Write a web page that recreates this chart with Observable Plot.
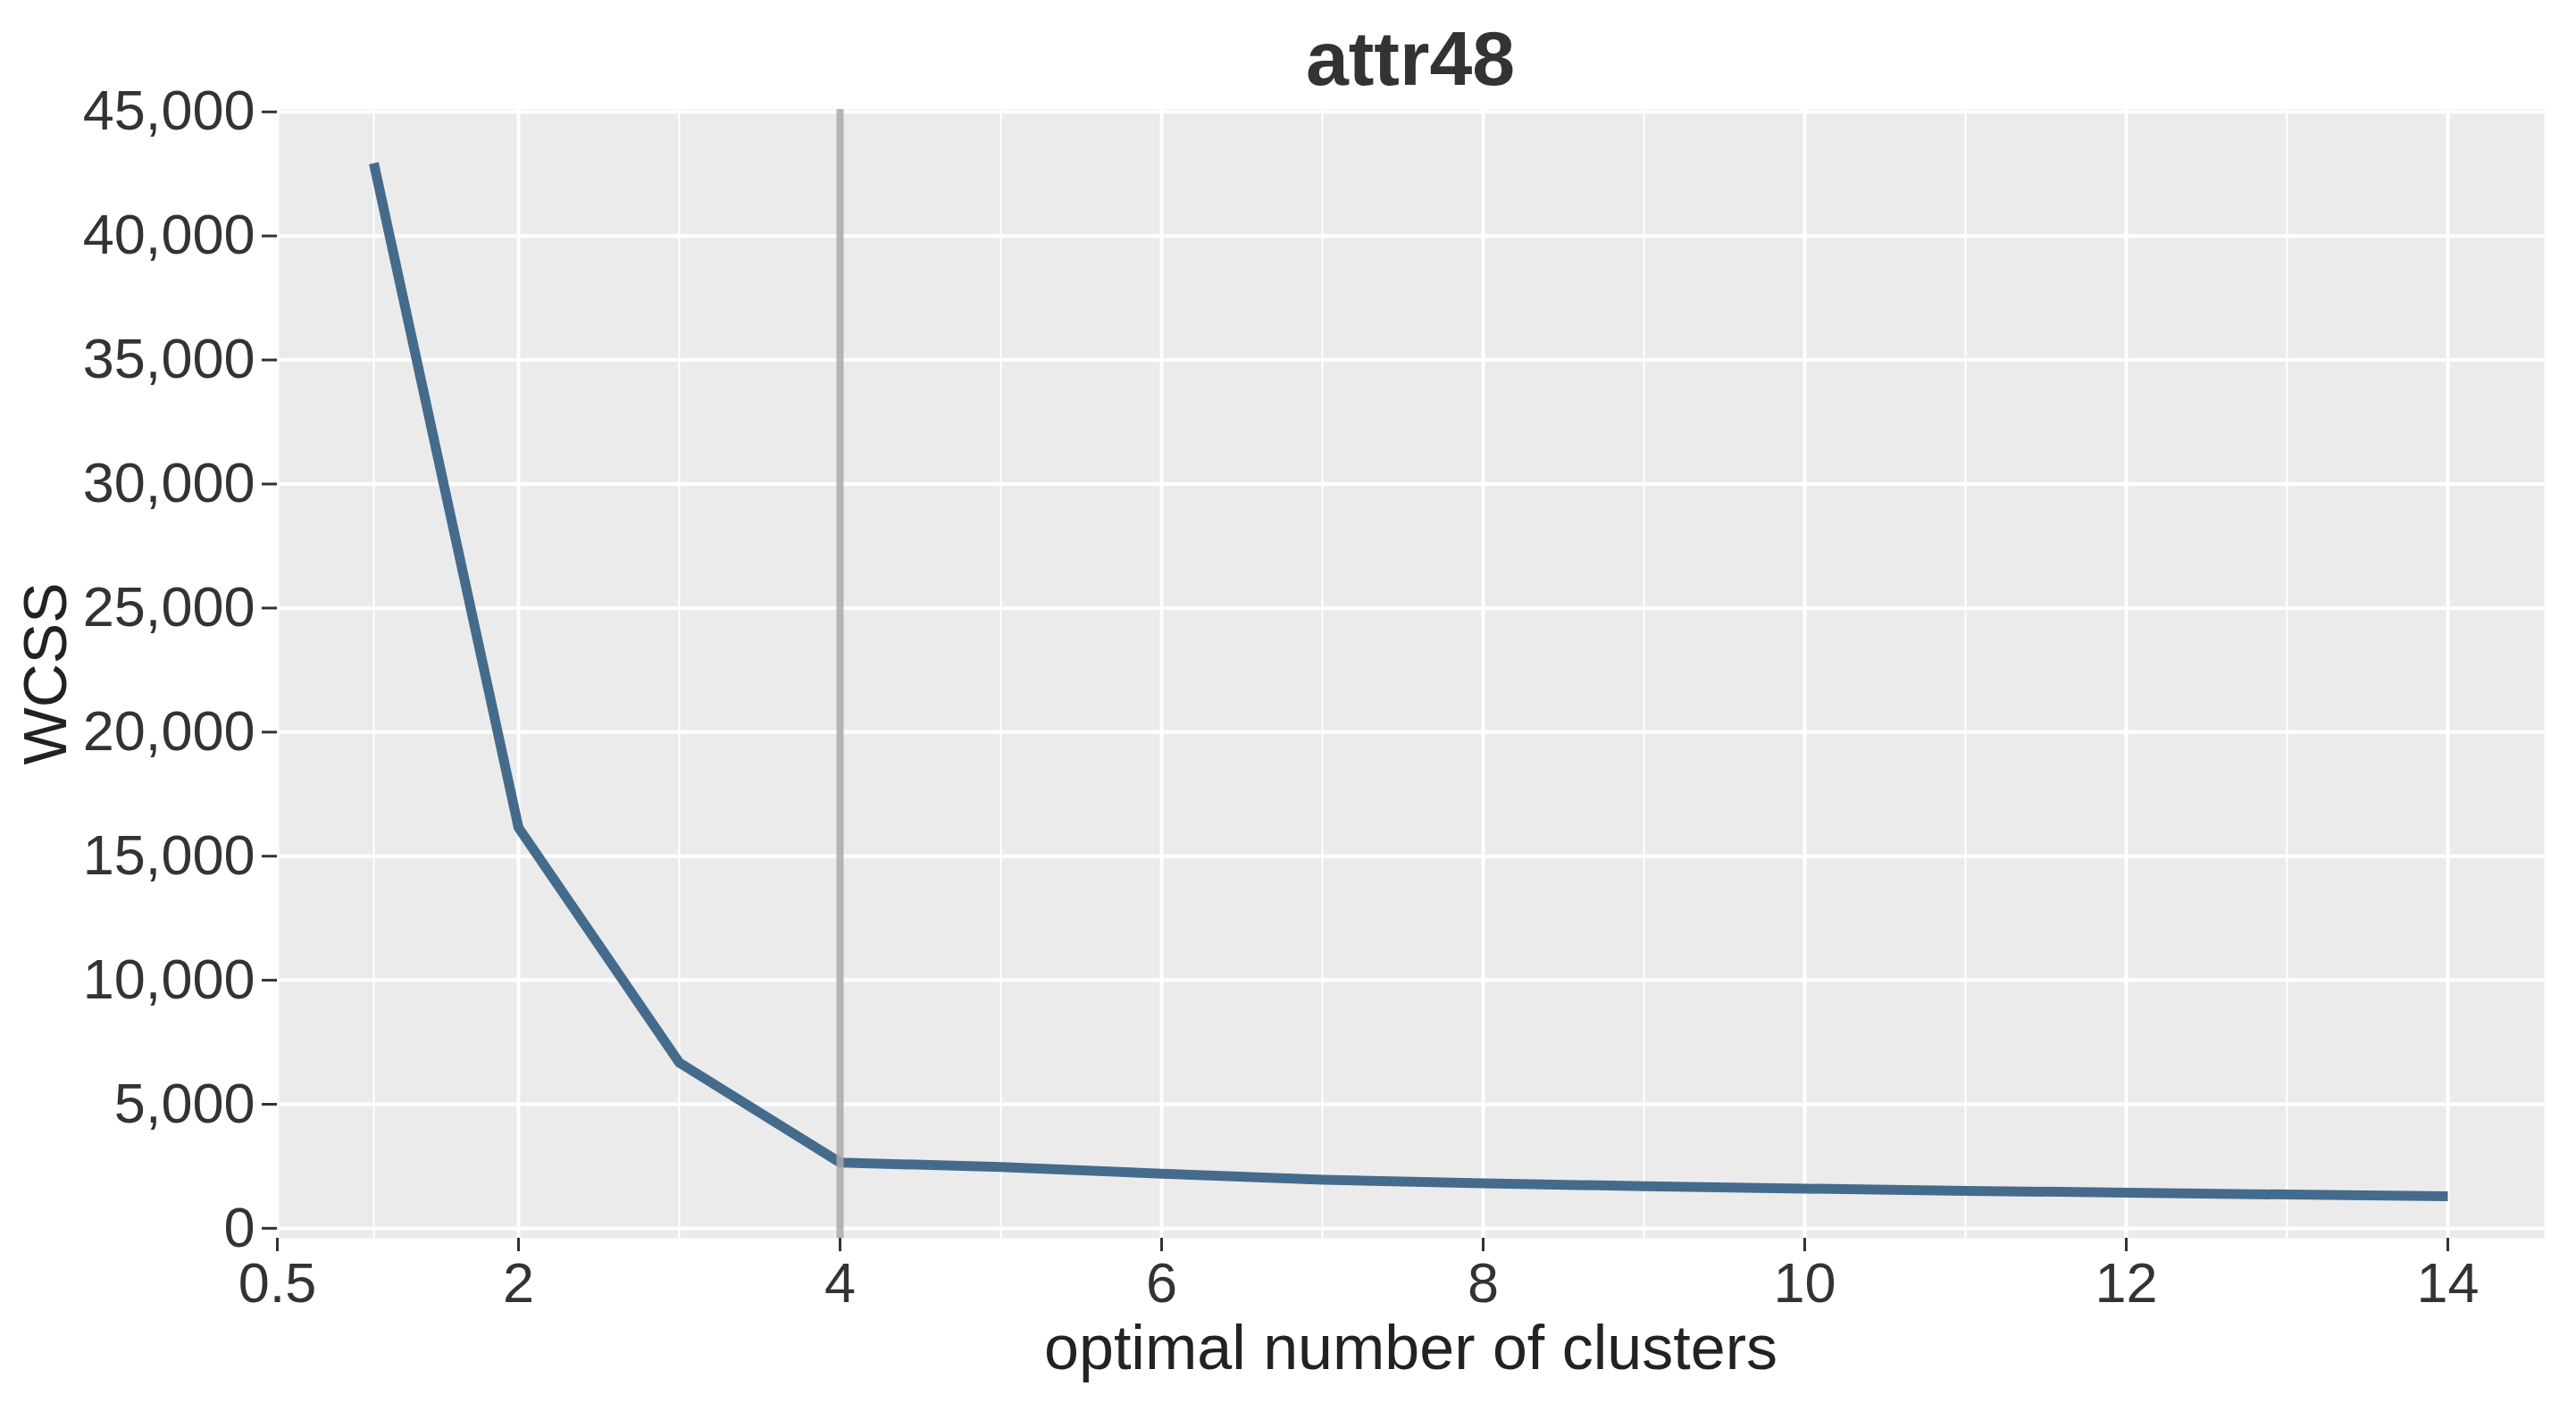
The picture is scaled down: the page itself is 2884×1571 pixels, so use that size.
<!DOCTYPE html>
<html>
<head>
<meta charset="utf-8">
<script src="https://cdn.jsdelivr.net/npm/d3@7"></script>
<script src="https://cdn.jsdelivr.net/npm/@observablehq/plot@0.6"></script>
<style>
  html, body { margin: 0; padding: 0; background: #ffffff; overflow: hidden; }
  #title {
    position: relative; z-index: 2;
    width: 2884px; height: 60px; box-sizing: border-box;
    padding-left: 310px; padding-right: 36px;
    font: bold 86px "Liberation Sans", Arial, sans-serif;
    line-height: 130px; color: #333333; text-align: center;
  }
  #chart { position: relative; z-index: 1; }
</style>
</head>
<body>
<div id="title">attr48</div>
<div id="chart"></div>
<script>
// number of clusters (x) and within-cluster sum of squares (y)
const clusters = [1.1, 2, 3, 4, 5, 6, 7, 8, 9, 10, 11, 12, 13, 14];
const wcss = [42930, 16150, 6680, 2650, 2470, 2200, 1960, 1810, 1700, 1600, 1510, 1440, 1360, 1290];

// axis ticks, titles and grid
const xTicks = [0.5, 2, 4, 6, 8, 10, 12, 14];
const xMinorGrid = [1.1, 3, 5, 7, 9, 11, 13];
const yTicks = [0, 5000, 10000, 15000, 20000, 25000, 30000, 35000, 40000, 45000];
const elbow = [4];
const xTitle = ["optimal number of clusters"];
const yTitle = ["WCSS"];

const data = clusters.map((k, i) => ({k, wcss: wcss[i]}));

const chart = Plot.plot({
  width: 2884,
  height: 1511,
  marginLeft: 310,
  marginRight: 36,
  marginTop: 62,
  marginBottom: 185,
  style: {fontFamily: "'Liberation Sans', Arial, sans-serif", fontSize: "62px", background: "transparent", color: "#333333", overflow: "visible"},
  x: {domain: [0.5, 14.6]},
  y: {domain: [-400, 45100]},
  marks: [
    Plot.frame({fill: "#EBEBEB", stroke: "none"}),
    Plot.ruleX(xMinorGrid, {stroke: "#ffffff", strokeWidth: 2}),
    Plot.ruleY(yTicks, {stroke: "#ffffff", strokeWidth: 4}),
    Plot.ruleX(xTicks, {stroke: "#ffffff", strokeWidth: 4}),
    Plot.line(data, {x: "k", y: "wcss", stroke: "#456b8c", strokeWidth: 11, strokeLinecap: "butt", strokeLinejoin: "round"}),
    Plot.ruleX(elbow, {stroke: "#a8a8a8", strokeWidth: 8, strokeOpacity: 0.85}),
    Plot.axisY({
      ticks: yTicks, tickFormat: d3.format(","), tickSize: 17, tickPadding: 8,
      strokeWidth: 3, color: "#333333", fontSize: 63, label: null
    }),
    Plot.axisX({
      ticks: xTicks, tickFormat: d => String(d), tickSize: 15, tickPadding: 12,
      strokeWidth: 3, color: "#333333", fontSize: 63, label: null
    }),
    Plot.text(xTitle, {text: d => d, frameAnchor: "bottom", lineAnchor: "middle", dy: 124, fontSize: 70, fill: "#222222"}),
    Plot.text(yTitle, {text: d => d, frameAnchor: "left", textAnchor: "middle", lineAnchor: "middle", rotate: -90, dx: -258, fontSize: 68, fill: "#222222"})
  ]
});
document.getElementById("chart").appendChild(chart);
</script>
</body>
</html>
